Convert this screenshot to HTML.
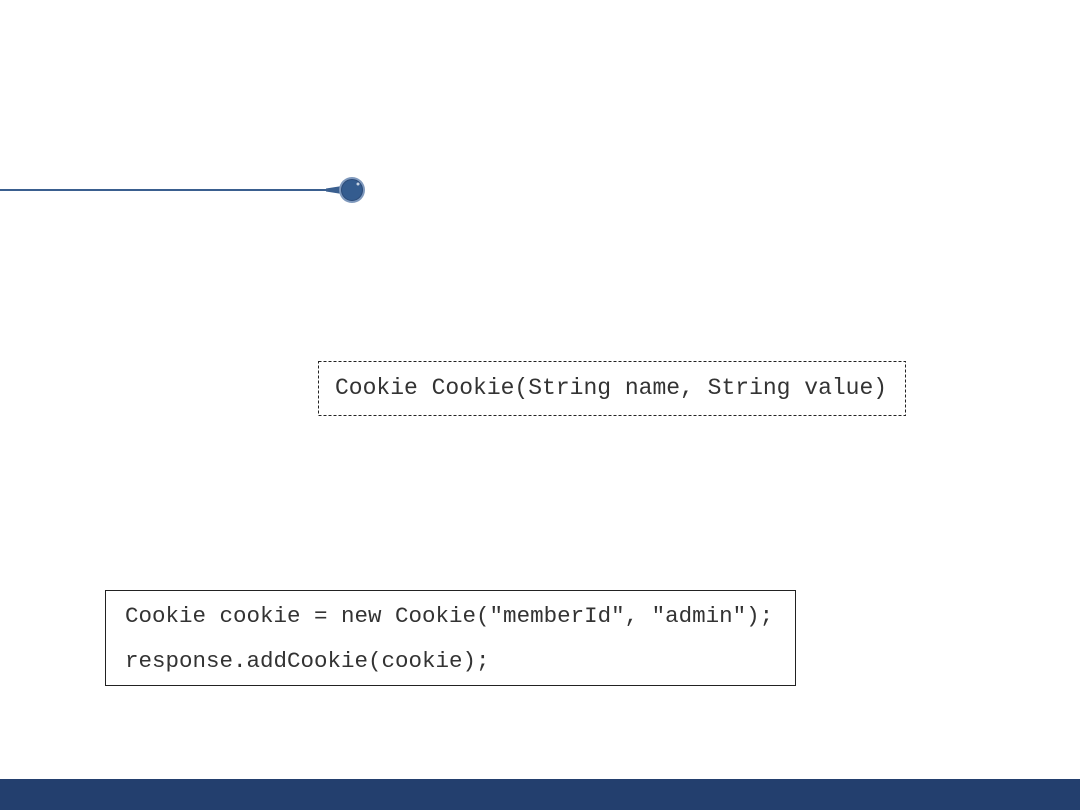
<!DOCTYPE html>
<html><head><meta charset="utf-8"><style>
html,body{margin:0;padding:0;background:#fff;}
body{width:1080px;height:810px;position:relative;overflow:hidden;font-family:"Liberation Mono",monospace;}
.t{position:absolute;white-space:pre;color:#333;font-family:"Liberation Mono",monospace;}
</style></head><body>
<svg width="1080" height="810" style="position:absolute;left:0;top:0">
  <line x1="0" y1="190" x2="330" y2="190" stroke="#3a5f8f" stroke-width="2"/>
  <path d="M326 188.5 L342 186 L342 194 L326 191.5 Z" fill="#3a5f8f"/>
  <circle cx="352" cy="190" r="13" fill="#7f99bd"/>
  <circle cx="352" cy="190" r="10.5" fill="#345c8f" stroke="#2a4a78" stroke-width="1"/>
  <circle cx="358" cy="184" r="1.5" fill="#c8d4e4"/>
  <rect x="318.5" y="361.5" width="587" height="54" fill="none" stroke="#222" stroke-width="1" stroke-dasharray="3,2"/>
  <rect x="105.5" y="590.5" width="690" height="95" fill="none" stroke="#222" stroke-width="1"/>
  <rect x="0" y="779" width="1080" height="31" fill="#233f6e"/>
</svg>
<div class="t" style="left:335px;top:375px;font-size:23px;">Cookie Cookie(String name, String value)</div>
<div class="t" style="left:125px;top:603px;font-size:22.5px;">Cookie cookie = new Cookie("memberId", "admin");</div>
<div class="t" style="left:125px;top:648px;font-size:22.5px;">response.addCookie(cookie);</div>
</body></html>
